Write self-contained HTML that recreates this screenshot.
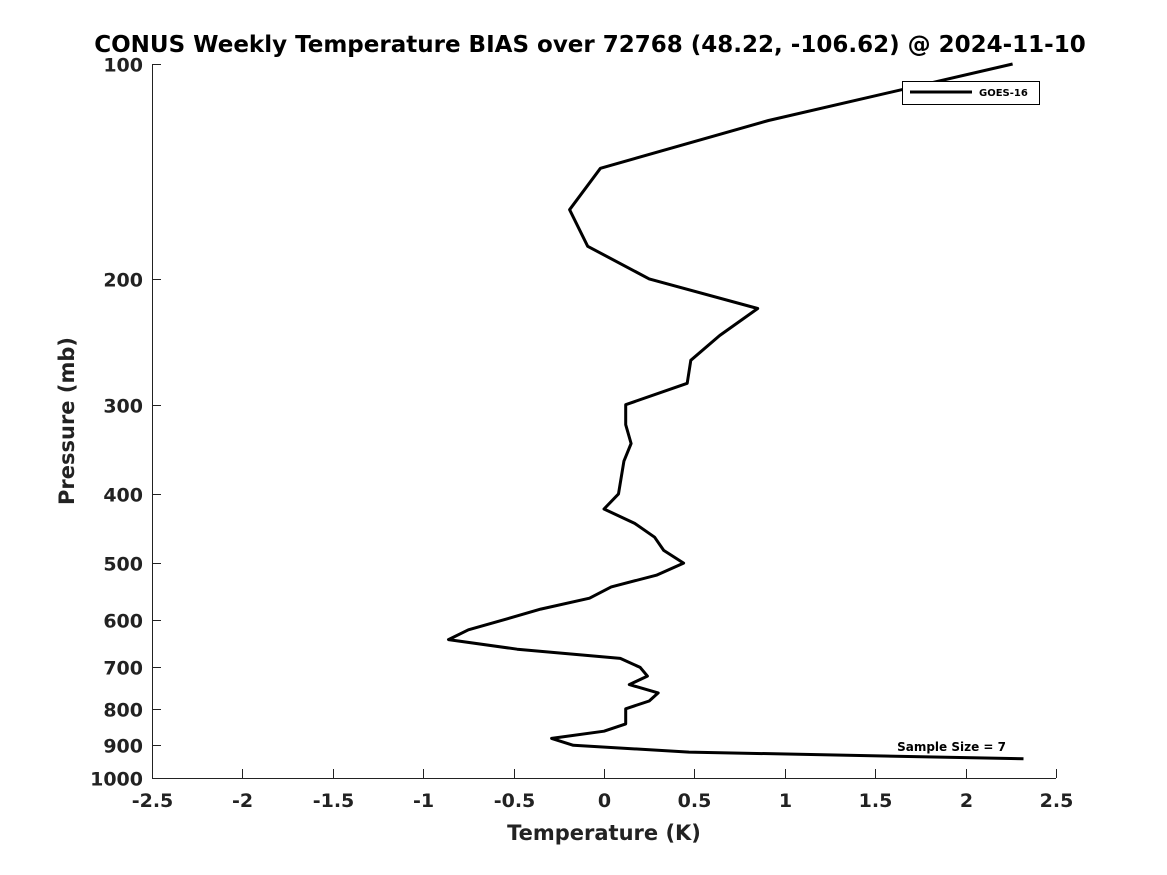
<!DOCTYPE html>
<html><head><meta charset="utf-8"><style>
html,body{margin:0;padding:0;background:#fff;}
svg{display:block;font-family:"DejaVu Sans","Liberation Sans",sans-serif;font-weight:bold;}
</style></head><body>
<svg id="chart" width="1167" height="875" viewBox="0 0 1167 875" xmlns="http://www.w3.org/2000/svg">
<rect width="1167" height="875" fill="#fff"/>
<text x="590" y="52" text-anchor="middle" font-size="23" fill="#000">CONUS Weekly Temperature BIAS over 72768 (48.22, -106.62) @ 2024-11-10</text>
<g id="axes"></g>
<polyline id="series" fill="none" stroke="#000" stroke-width="3" stroke-linejoin="round"/>
<g>
<rect x="902.5" y="81.5" width="137" height="23" fill="#fff" stroke="#000" stroke-width="1"/>
<line x1="910" y1="92" x2="972" y2="92" stroke="#000" stroke-width="3"/>
<text x="979" y="96" font-size="10" fill="#000">GOES-16</text>
</g>
<text x="1006" y="751" text-anchor="end" font-size="12" fill="#000">Sample Size = 7</text>
<text x="604" y="840" text-anchor="middle" font-size="21" fill="#222">Temperature (K)</text>
<text transform="translate(74,421) rotate(-90)" text-anchor="middle" font-size="21" fill="#222">Pressure (mb)</text>
</svg>
<script>
const pressures=[100,120,140,160,180,200,220,240,260,280,300,320,340,360,400,420,440,460,480,500,520,540,560,580,600,620,640,660,680,700,720,740,760,780,800,840,860,880,900,920,940];
const biasValues=[2.26,0.91,-0.02,-0.19,-0.09,0.25,0.85,0.64,0.48,0.46,0.12,0.12,0.15,0.11,0.08,0.0,0.17,0.28,0.33,0.44,0.29,0.04,-0.08,-0.35,-0.55,-0.75,-0.86,-0.48,0.09,0.2,0.24,0.14,0.3,0.25,0.12,0.12,0.0,-0.29,-0.17,0.47,2.32];
const xTicks=[-2.5,-2,-1.5,-1,-0.5,0,0.5,1,1.5,2,2.5];
const yTicks=[100,200,300,400,500,600,700,800,900,1000];
const L=152,R=1056,T=64,B=778;
function xs(v){return L+(v+2.5)/5*(R-L);}
function ys(p){return T+(Math.log10(p)-2)*(B-T);}
const NS="http://www.w3.org/2000/svg";
const ax=document.getElementById('axes');
function mk(tag,attrs){const e=document.createElementNS(NS,tag);for(const k in attrs)e.setAttribute(k,attrs[k]);return e;}
const xl=mk('line',{x1:L,y1:B+0.5,x2:R,y2:B+0.5,stroke:'#222','stroke-width':1});


ax.appendChild(xl);
const yl=mk('line',{x1:L+0.5,y1:T,x2:L+0.5,y2:B,stroke:'#222','stroke-width':1});


ax.appendChild(yl);
xTicks.forEach(v=>{
 const x=Math.round(xs(v))+0.5;
 ax.appendChild(mk('line',{x1:x,y1:B,x2:x,y2:B-9,stroke:'#222','stroke-width':1}));
 const t=mk('text',{x:x,y:B+29,'text-anchor':'middle','font-size':19,fill:'#222'});
 
 
 t.textContent=String(v);ax.appendChild(t);
});
yTicks.forEach(p=>{
 const y=Math.round(ys(p))+0.5;
 ax.appendChild(mk('line',{x1:L,y1:y,x2:L+9,y2:y,stroke:'#222','stroke-width':1}));
 const t=mk('text',{x:L-9,y:y+7,'text-anchor':'end','font-size':19,fill:'#222'});
 
 
 t.textContent=String(p);ax.appendChild(t);
});
document.getElementById('series').setAttribute('points',pressures.map((p,i)=>xs(biasValues[i]).toFixed(1)+','+ys(p).toFixed(1)).join(' '));
</script>
</body></html>
